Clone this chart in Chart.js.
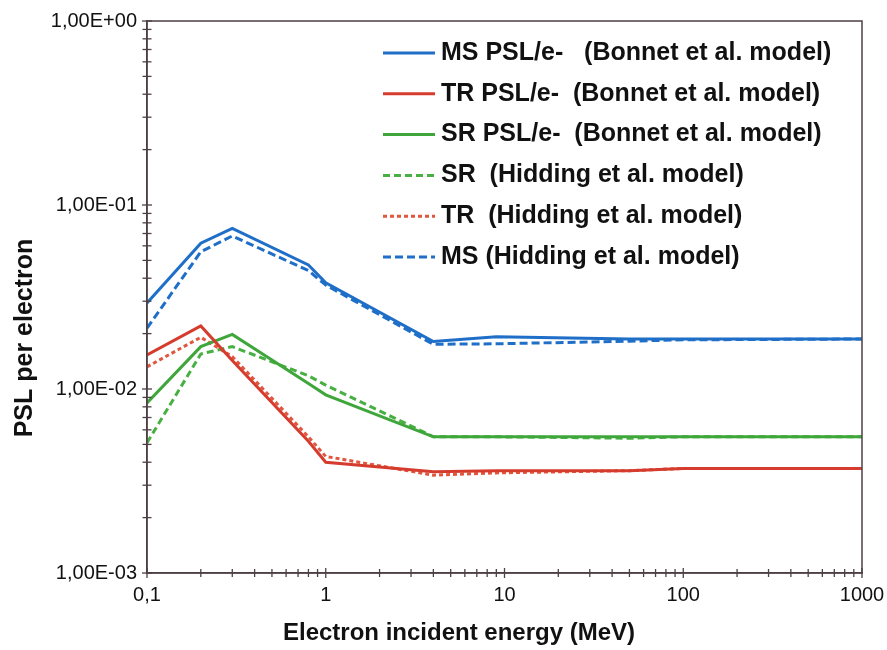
<!DOCTYPE html>
<html>
<head>
<meta charset="utf-8">
<script src="https://cdn.jsdelivr.net/npm/chart.js@4/dist/chart.umd.min.js"></script>
<style>
  body { margin: 0; background: #fff; }
  canvas { display: block; }
</style>
</head>
<body>
<canvas id="psl-chart" width="887" height="650"></canvas>
<script>
// electron energies (MeV) where the curves have their points
const energies = [0.1, 0.2, 0.3, 0.8, 1, 4, 9, 50, 100, 1000];

// PSL per electron
const msBonnet = [0.0293, 0.062, 0.0746, 0.0472, 0.0378, 0.0181, 0.0192, 0.0187, 0.0187, 0.0187];
const trBonnet = [0.0153, 0.022, 0.0143, 0.0052, 0.0040, 0.00355, 0.0036, 0.0036, 0.0037, 0.0037];
const srBonnet = [0.0084, 0.017, 0.0198, 0.0107, 0.0093, 0.0055, 0.0055, 0.0055, 0.0055, 0.0055];
const srHidding = [0.0051, 0.0155, 0.017, 0.0118, 0.0105, 0.0055, 0.0055, 0.0054, 0.0055, 0.0055];
const trHidding = [0.0132, 0.0191, 0.015, 0.0055, 0.0043, 0.0034, 0.0035, 0.0036, 0.0037, 0.0037];
const msHidding = [0.0214, 0.0557, 0.0679, 0.044, 0.0367, 0.0175, 0.0176, 0.0182, 0.0185, 0.0187];

const xDecades = [0.1, 1, 10, 100, 1000];
const yDecades = [0.001, 0.01, 0.1, 1];

const axisColor = '#4d4045';
const blue = '#1f6fc8';
const red = '#d63c2d';
const green = '#3ea63a';

const points = (vals) => vals.map((v, i) => ({ x: energies[i], y: v }));

// 1..9 x 10^n between the first and last decade
const logTicks = (decades) => {
    const out = [];
    for (let i = 0; i < decades.length - 1; i++) {
        for (let d = 1; d <= 9; d++) out.push(+(decades[i] * d).toPrecision(3));
    }
    out.push(decades[decades.length - 1]);
    return out;
};

const isDecade = (v) => Math.abs(Math.log10(v) - Math.round(Math.log10(v))) < 1e-6;

const yLabel = (v) => {
    const e = Math.round(Math.log10(v));
    return '1,00E' + (e < 0 ? '-' : '+') + String(Math.abs(e)).padStart(2, '0');
};

const frameAndTicks = {
    id: 'frameAndTicks',
    afterDraw(chart) {
        const { ctx, chartArea: a, scales } = chart;
        ctx.save();
        ctx.strokeStyle = axisColor;
        ctx.lineWidth = 1.5;
        ctx.strokeRect(a.left, a.top, a.right - a.left, a.bottom - a.top);
        ctx.lineWidth = 1.3;
        scales.x.ticks.forEach(t => {
            const px = scales.x.getPixelForValue(t.value);
            const h = isDecade(t.value) ? 5 : 4;
            ctx.beginPath();
            ctx.moveTo(px, a.bottom - h);
            ctx.lineTo(px, a.bottom + h);
            ctx.stroke();
        });
        scales.y.ticks.forEach(t => {
            const py = scales.y.getPixelForValue(t.value);
            const h = isDecade(t.value) ? 5 : 4.5;
            ctx.beginPath();
            ctx.moveTo(a.left - h, py);
            ctx.lineTo(a.left + h, py);
            ctx.stroke();
        });

        // axis titles
        ctx.fillStyle = '#111';
        ctx.textAlign = 'center';
        ctx.textBaseline = 'middle';
        ctx.font = 'bold 24px "Liberation Sans", Arial, sans-serif';
        ctx.fillText('Electron incident energy (MeV)', 459, 633);
        ctx.save();
        ctx.translate(25, 338);
        ctx.rotate(-Math.PI / 2);
        ctx.font = 'bold 25px "Liberation Sans", Arial, sans-serif';
        ctx.fillText('PSL per electron', 0, 0);
        ctx.restore();

        // legend
        ctx.font = 'bold 25px "Liberation Sans", Arial, sans-serif';
        ctx.textAlign = 'left';
        chart.data.datasets.forEach((ds, i) => {
            const y = 53 + i * 40.8;
            ctx.save();
            ctx.strokeStyle = ds.borderColor;
            ctx.lineWidth = 3;
            ctx.setLineDash(ds.borderDash || []);
            ctx.beginPath();
            ctx.moveTo(383, y);
            ctx.lineTo(435, y);
            ctx.stroke();
            ctx.restore();
            ctx.fillText(ds.label, 441, y);
        });
        ctx.restore();
    }
};

const line = (label, vals, color, dash) => ({
    label,
    data: points(vals),
    borderColor: color,
    backgroundColor: color,
    borderWidth: 3,
    borderDash: dash,
    pointRadius: 0,
    tension: 0,
    fill: false,
});

new Chart(document.getElementById('psl-chart').getContext('2d'), {
    type: 'line',
    data: {
        datasets: [
            line('MS PSL/e-   (Bonnet et al. model)', msBonnet, blue, []),
            line('TR PSL/e-  (Bonnet et al. model)', trBonnet, red, []),
            line('SR PSL/e-  (Bonnet et al. model)', srBonnet, green, []),
            line('SR  (Hidding et al. model)', srHidding, '#48b043', [7, 4]),
            line('TR  (Hidding et al. model)', trHidding, '#e0563f', [4, 3]),
            line('MS (Hidding et al. model)', msHidding, blue, [8, 4]),
        ]
    },
    options: {
        responsive: false,
        animation: false,
        layout: {
            padding: { top: 21, right: 25, left: 0, bottom: 0 }
        },
        plugins: {
            legend: { display: false },
            tooltip: { enabled: false },
        },
        scales: {
            x: {
                type: 'logarithmic',
                min: 0.1,
                max: 1000,
                afterBuildTicks: (scale) => { scale.ticks = logTicks(xDecades).map(v => ({ value: v })); },
                afterFit: (scale) => { scale.height = 77; scale.paddingLeft = 0; scale.paddingRight = 0; },
                grid: { display: false, drawTicks: false },
                border: { display: true, color: axisColor, width: 1.5 },
                ticks: {
                    autoSkip: false,
                    maxRotation: 0,
                    padding: 10,
                    color: '#111',
                    font: { family: '"Liberation Sans", Arial, sans-serif', size: 20 },
                    callback: (v) => isDecade(v) ? String(v).replace('.', ',') : '',
                },
            },
            y: {
                type: 'logarithmic',
                min: 0.001,
                max: 1,
                afterBuildTicks: (scale) => { scale.ticks = logTicks(yDecades).map(v => ({ value: v })); },
                afterFit: (scale) => { scale.width = 147; scale.paddingTop = 0; scale.paddingBottom = 0; },
                grid: { display: false, drawTicks: false },
                border: { display: true, color: axisColor, width: 1.5 },
                ticks: {
                    autoSkip: false,
                    padding: 10,
                    color: '#111',
                    font: { family: '"Liberation Sans", Arial, sans-serif', size: 20 },
                    callback: (v) => isDecade(v) ? yLabel(v) : '',
                },
            },
        },
    },
    plugins: [frameAndTicks],
});
</script>
</body>
</html>
